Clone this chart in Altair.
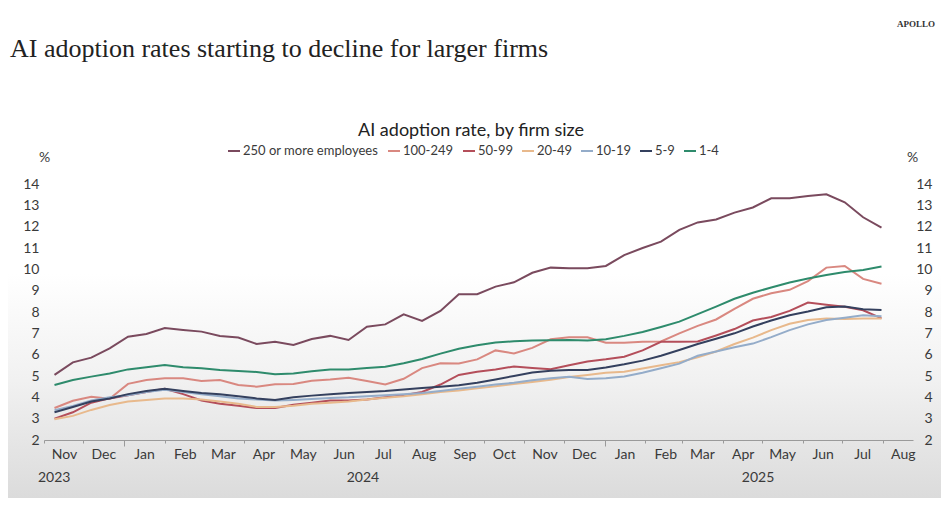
import altair as alt
import pandas as pd

# ---------------- data ----------------
series_names = ["250 or more employees", "100-249", "50-99", "20-49", "10-19", "5-9", "1-4"]
series_colors = ["#7a4a5e", "#d98880", "#b44e5a", "#e8b98c", "#94acc9", "#34405e", "#2e8b6c"]

first_period = "2023-11-09"   # biweekly survey periods
period_days = 14

s250 = [5.05, 5.64, 5.86, 6.30, 6.84, 6.97, 7.25, 7.16, 7.08, 6.88,
        6.80, 6.50, 6.61, 6.45, 6.73, 6.88, 6.69, 7.31, 7.42, 7.89,
        7.58, 8.05, 8.83, 8.83, 9.19, 9.39, 9.84, 10.08, 10.05, 10.05,
        10.16, 10.67, 11.00, 11.30, 11.85, 12.20, 12.34, 12.66, 12.90, 13.33,
        13.33, 13.44, 13.52, 13.14, 12.44, 11.95]
s100 = [3.50, 3.84, 4.03, 3.93, 4.63, 4.81, 4.89, 4.89, 4.77, 4.81,
        4.58, 4.50, 4.61, 4.63, 4.78, 4.84, 4.92, 4.77, 4.60, 4.87,
        5.37, 5.60, 5.59, 5.78, 6.20, 6.06, 6.32, 6.72, 6.82, 6.82,
        6.56, 6.56, 6.60, 6.62, 7.00, 7.35, 7.65, 8.15, 8.62, 8.88,
        9.04, 9.45, 10.08, 10.16, 9.55, 9.32]
s50 = [3.00, 3.30, 3.75, 3.95, 4.10, 4.25, 4.40, 4.15, 3.85, 3.70,
       3.60, 3.50, 3.50, 3.65, 3.75, 3.85, 3.85, 3.90, 4.00, 4.10,
       4.25, 4.60, 5.05, 5.20, 5.30, 5.45, 5.38, 5.32, 5.50, 5.68,
       5.78, 5.90, 6.20, 6.60, 6.60, 6.62, 6.90, 7.20, 7.60, 7.77,
       8.05, 8.44, 8.34, 8.25, 8.08, 7.70]
s20 = [2.97, 3.13, 3.41, 3.64, 3.80, 3.88, 3.95, 3.95, 3.90, 3.80,
       3.70, 3.55, 3.55, 3.60, 3.70, 3.75, 3.80, 3.90, 3.98, 4.05,
       4.15, 4.25, 4.32, 4.42, 4.52, 4.62, 4.72, 4.82, 4.95, 5.05,
       5.15, 5.20, 5.35, 5.50, 5.65, 5.88, 6.15, 6.50, 6.80, 7.15,
       7.45, 7.62, 7.70, 7.67, 7.70, 7.70]
s10 = [3.40, 3.60, 3.85, 4.00, 4.10, 4.25, 4.35, 4.25, 4.15, 4.05,
       3.95, 3.90, 3.85, 3.88, 3.92, 3.97, 4.00, 4.05, 4.10, 4.15,
       4.20, 4.30, 4.40, 4.50, 4.60, 4.68, 4.80, 4.90, 4.96, 4.86,
       4.90, 4.98, 5.15, 5.36, 5.58, 5.95, 6.15, 6.35, 6.52, 6.82,
       7.15, 7.42, 7.62, 7.73, 7.85, 7.80]
s5 = [3.30, 3.55, 3.80, 3.95, 4.15, 4.30, 4.40, 4.30, 4.20, 4.15,
      4.05, 3.95, 3.88, 4.00, 4.08, 4.15, 4.20, 4.25, 4.30, 4.37,
      4.44, 4.50, 4.57, 4.68, 4.84, 5.00, 5.16, 5.25, 5.28, 5.28,
      5.40, 5.55, 5.72, 5.95, 6.22, 6.50, 6.75, 7.00, 7.32, 7.60,
      7.85, 8.02, 8.22, 8.26, 8.13, 8.09]
s1 = [4.58, 4.81, 4.97, 5.12, 5.31, 5.41, 5.52, 5.41, 5.36, 5.28,
      5.23, 5.19, 5.08, 5.12, 5.22, 5.31, 5.31, 5.37, 5.43, 5.60,
      5.80, 6.05, 6.28, 6.44, 6.57, 6.63, 6.66, 6.68, 6.69, 6.66,
      6.72, 6.88, 7.06, 7.30, 7.55, 7.90, 8.25, 8.62, 8.90, 9.15,
      9.38, 9.57, 9.73, 9.88, 9.97, 10.13]

y_ticks = list(range(2, 15))
year_labels = ["2023", "2024", "2025"]

main_title = "AI adoption rates starting to decline for larger firms"
chart_title = "AI adoption rate, by firm size"
brand = "APOLLO"

# ---------------- table ----------------
all_series = [s250, s100, s50, s20, s10, s5, s1]
dates = pd.date_range(first_period, periods=len(s250), freq=f"{period_days}D")
rows = []
for name, vals in zip(series_names, all_series):
    for d, v in zip(dates, vals):
        rows.append({"date": d.strftime("%Y-%m-%dT00:00:00"), "value": v, "series": name})
df = pd.DataFrame(rows)

W, H = 869, 256
FONT = "Lato"
TXT = "#3a3a3a"

dom_start = pd.Timestamp("2023-11-01")
dom_end = pd.Timestamp("2025-08-24")
x_scale = alt.Scale(domain=[alt.DateTime(year=2023, month=11, date=1),
                            alt.DateTime(year=2025, month=8, date=24)])
y_scale = alt.Scale(domain=[2, 14], nice=False, zero=False)

JAN = "month(datum.value) == 0"
x_axis = alt.Axis(
    format="%b", tickCount=alt.TimeIntervalStep(interval="month", step=1),
    labelOffset=20, labelOverlap=False, labelFlush=False, labelBound=False,
    labelFont=FONT, labelFontSize=14, labelColor=TXT,
    labelPadding={"condition": {"test": JAN, "value": 1}, "value": 4},
    domainColor="#9a9a9a", domainWidth=1.2, tickColor="#9a9a9a",
    tickSize={"condition": {"test": JAN, "value": 6}, "value": 3},
    grid=False, title=None, zindex=2,
)

left_axis = alt.Axis(
    orient="left", values=y_ticks, ticks=False, tickSize=0, domain=False, grid=False,
    labelOverlap=False, labelFlush=False, labelBound=False,
    labelFont=FONT, labelFontSize=14, labelColor=TXT, labelPadding=5,
    title="%", titleAngle=0, titleX=0, titleY=-20, titleAlign="center",
    titleFont=FONT, titleFontSize=14, titleFontWeight="normal", titleColor=TXT, zindex=2,
)
right_axis = alt.Axis(
    orient="right", values=y_ticks, ticks=False, tickSize=0, domain=False, grid=False,
    labelOverlap=False, labelFlush=False, labelBound=False,
    labelFont=FONT, labelFontSize=14, labelColor=TXT, labelPadding=19, labelAlign="right",
    title="%", titleAngle=0, titleX=-1, titleY=-20, titleAlign="center",
    titleFont=FONT, titleFontSize=14, titleFontWeight="normal", titleColor=TXT, zindex=2,
)

bg = alt.Chart(pd.DataFrame({"k": [0]})).mark_rect(
    fill=alt.Gradient(
        gradient="linear",
        stops=[alt.GradientStop(color="#ffffff", offset=0),
               alt.GradientStop(color="#f1f1f1", offset=0.45),
               alt.GradientStop(color="#d9d9d9", offset=1)],
        x1=0, x2=0, y1=0, y2=1,
    )
).encode(x=alt.value(-44), x2=alt.value(W + 40), y=alt.value(90), y2=alt.value(H + 70))

lines = alt.Chart(df).mark_line(strokeWidth=2).encode(
    x=alt.X("date:T", scale=x_scale, axis=x_axis),
    y=alt.Y("value:Q", scale=y_scale, axis=left_axis),
    color=alt.Color(
        "series:N",
        scale=alt.Scale(domain=series_names, range=series_colors),
        legend=alt.Legend(
            orient="none", legendX=183, legendY=-40, direction="horizontal", columns=7,
            title=None, symbolType="stroke", symbolSize=144, symbolStrokeWidth=2,
            labelFont=FONT, labelFontSize=13, labelColor=TXT, labelLimit=300,
            labelOffset=2, columnPadding=5,
        ),
    ),
)

right = alt.Chart(df).mark_line(opacity=0).encode(
    x=alt.X("date:T", scale=x_scale, axis=x_axis),
    y=alt.Y("value:Q", scale=y_scale, axis=right_axis),
)

# year labels under the month labels
year_rows = []
for yl in year_labels:
    y0 = max(pd.Timestamp(f"{yl}-01-01"), dom_start)
    y1 = min(pd.Timestamp(f"{yl}-12-31"), dom_end)
    mid = y0 + (y1 - y0) / 2
    year_rows.append({"label": yl, "date": mid.strftime("%Y-%m-%dT00:00:00"),
                      "start": y0.strftime("%Y-%m-%dT00:00:00")})
ydf = pd.DataFrame(year_rows)

years_first = alt.Chart(ydf.iloc[:1]).mark_text(
    align="left", baseline="middle", font=FONT, fontSize=14, color=TXT, dx=-6
).encode(x=alt.X("start:T", scale=x_scale, axis=x_axis), y=alt.value(294), text="label:N")
years_rest = alt.Chart(ydf.iloc[1:]).mark_text(
    align="center", baseline="middle", font=FONT, fontSize=14, color=TXT
).encode(x=alt.X("date:T", scale=x_scale, axis=x_axis), y=alt.value(294), text="label:N")

t_main = alt.Chart(pd.DataFrame({"t": [main_title]})).mark_text(
    align="left", baseline="alphabetic", font="Liberation Serif", fontSize=26, color="#222222"
).encode(x=alt.value(-34), y=alt.value(-127), text="t:N")
t_brand = alt.Chart(pd.DataFrame({"t": [brand]})).mark_text(
    align="center", baseline="alphabetic", font="Liberation Serif", fontSize=9,
    fontWeight="bold", color="#333333"
).encode(x=alt.value(872), y=alt.value(-157), text="t:N")
t_chart = alt.Chart(pd.DataFrame({"t": [chart_title]})).mark_text(
    align="center", baseline="alphabetic", font=FONT, fontSize=18, color="#222222"
).encode(x=alt.value(427), y=alt.value(-48), text="t:N")

chart = alt.layer(
    bg, lines, right, years_first, years_rest, t_main, t_brand, t_chart
).resolve_scale(y="shared", x="shared").resolve_axis(y="independent").properties(
    width=W, height=H,
    padding={"left": 36, "top": 176, "right": 28, "bottom": 58},
    autosize=alt.AutoSizeParams(type="none"),
    background="#ffffff",
).configure_view(stroke=None)

chart.save("out.html", embed_options={"renderer": "svg", "actions": False})
